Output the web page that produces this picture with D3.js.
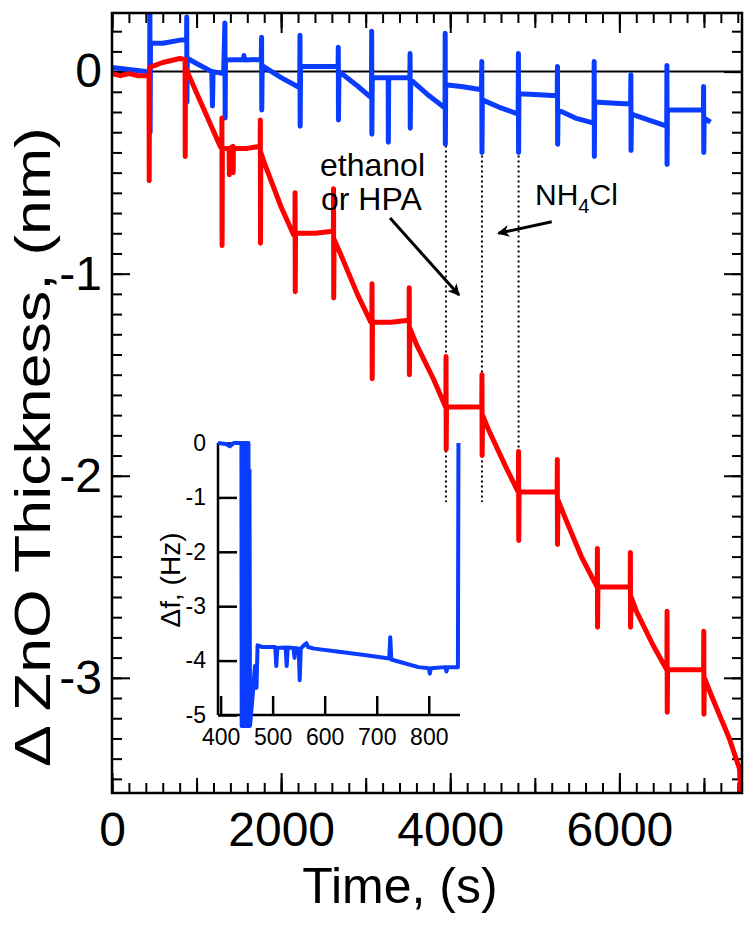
<!DOCTYPE html>
<html>
<head>
<meta charset="utf-8">
<script src="https://cdn.jsdelivr.net/npm/d3@7"></script>
<style>
  body { margin: 0; background: #fff; }
  svg { display: block; }
  text { font-family: "Liberation Sans", Arial, Helvetica, sans-serif; fill: #000; }
</style>
</head>
<body>
<svg id="chart" width="744" height="930"></svg>
<script>
// 主图：ZnO 厚度 (nm) 随时间 (s)
// [time, thickness]
const redTrace = [
  [0, -0.01], [100, -0.02], [200, -0.01], [300, -0.02], [438, -0.02],
  [440, -0.54], [443, 0.02], [500, 0.03], [600, 0.045], [700, 0.055], [800, 0.065], [864, 0.06],
  [866, -0.42], [869, 0.02], [900, -0.01], [1100, -0.2], [1280, -0.37],
  [1298, -0.38], [1300, -0.23], [1302, -0.86], [1305, -0.38], [1385, -0.38], [1388, -0.51], [1392, -0.38],
  [1430, -0.37], [1433, -0.5], [1436, -0.38], [1600, -0.38], [1740, -0.37],
  [1752, -0.38], [1754, -0.24], [1756, -0.85], [1760, -0.4], [1800, -0.45], [2000, -0.67], [2150, -0.81],
  [2163, -0.81], [2165, -0.6], [2167, -1.09], [2170, -0.8], [2400, -0.8], [2610, -0.79],
  [2618, -0.8], [2620, -0.58], [2622, -1.12], [2626, -0.83], [2700, -0.9], [2900, -1.1], [3060, -1.24],
  [3073, -1.24], [3075, -1.05], [3077, -1.52], [3080, -1.24], [3300, -1.24], [3505, -1.23],
  [3513, -1.24], [3515, -1.07], [3517, -1.5], [3522, -1.27], [3600, -1.35], [3800, -1.52], [3945, -1.66],
  [3948, -1.66], [3950, -1.41], [3952, -1.87], [3956, -1.66], [4200, -1.66], [4370, -1.66],
  [4373, -1.66], [4375, -1.5], [4377, -1.9], [4382, -1.7], [4450, -1.77], [4650, -1.95], [4803, -2.08],
  [4806, -2.08], [4808, -1.88], [4810, -2.32], [4814, -2.08], [5000, -2.08], [5262, -2.08],
  [5264, -2.08], [5266, -1.92], [5268, -2.34], [5274, -2.12], [5350, -2.2], [5550, -2.4], [5736, -2.55],
  [5738, -2.55], [5740, -2.36], [5742, -2.75], [5746, -2.55], [5950, -2.55], [6126, -2.55],
  [6128, -2.55], [6130, -2.38], [6132, -2.75], [6140, -2.6], [6200, -2.67], [6400, -2.84], [6560, -2.96],
  [6562, -2.96], [6564, -2.67], [6566, -3.17], [6570, -2.96], [6800, -2.96], [6994, -2.96],
  [6996, -2.96], [6998, -2.77], [7000, -3.18], [7006, -3.0], [7100, -3.1], [7300, -3.3], [7420, -3.45],
  [7440, -3.62]
]

// [time, thickness]
const blueTrace = [
  [0, 0.02], [200, 0.01], [400, 0.0], [446, -0.01],
  [448, 0.35], [451, -0.3], [455, 0.14], [600, 0.14], [825, 0.157],
  [882, 0.157], [884, 0.27], [886, -0.15], [890, 0.066], [1000, 0.04], [1180, 0.0],
  [1188, -0.17], [1195, 0.0], [1320, -0.01], [1335, 0.24], [1338, -0.23], [1342, 0.058],
  [1555, 0.06], [1560, 0.08], [1565, 0.058], [1765, 0.06],
  [1769, 0.17], [1771, -0.19], [1776, 0.03], [2000, -0.03], [2220, -0.08],
  [2223, 0.18], [2225, -0.27], [2230, 0.025], [2450, 0.025], [2674, 0.025],
  [2676, 0.12], [2678, -0.24], [2684, 0.0], [2900, -0.07], [3068, -0.13],
  [3071, 0.2], [3073, -0.31], [3078, -0.03], [3266, -0.03], [3268, -0.35], [3272, -0.03], [3522, -0.03],
  [3525, 0.09], [3527, -0.28], [3532, -0.04], [3750, -0.12], [3938, -0.18],
  [3940, 0.19], [3942, -0.36], [3946, -0.065], [4150, -0.075], [4370, -0.09],
  [4373, 0.05], [4375, -0.4], [4380, -0.14], [4600, -0.18], [4803, -0.21],
  [4806, 0.09], [4808, -0.4], [4812, -0.11], [5050, -0.115], [5265, -0.12],
  [5268, 0.025], [5270, -0.36], [5275, -0.19], [5480, -0.23], [5700, -0.255],
  [5702, 0.05], [5704, -0.42], [5708, -0.15], [5900, -0.155], [6133, -0.16],
  [6136, -0.016], [6138, -0.39], [6143, -0.21], [6350, -0.24], [6560, -0.27],
  [6562, 0.03], [6564, -0.46], [6568, -0.19], [6800, -0.19], [6994, -0.19],
  [6996, -0.074], [6998, -0.4], [7003, -0.23], [7077, -0.25]
]

// 插图：频率变化 Δf (Hz)
// [time, Δf]
const insetTrace = [
  [395, 0.0], [410, -0.02], [418, -0.06], [425, 0.0], [436, 0.0],
  [440, 0.0], [440.5, -5.2], [441.5, 0.0], [442.5, -5.2], [443.5, 0.0], [444.5, -5.2],
  [445.5, 0.0], [446.5, -5.2], [447.5, 0.0], [448.5, -5.2], [449.5, 0.0], [450.5, -5.2],
  [451.5, 0.0], [452.5, -5.2], [453.5, 0.0], [454.5, -5.2], [455.5, -0.5], [456.5, -5.2],
  [462, -4.6], [466, -4.1], [469, -4.5], [471, -3.72], [480, -3.75], [505, -3.75],
  [507, -4.1], [509, -3.77], [525, -3.76], [527, -4.1], [529, -3.76], [540, -3.77],
  [542, -3.95], [544, -3.77], [550, -3.78], [552, -4.36], [554, -3.78], [560, -3.72],
  [565, -3.68], [568, -3.75], [580, -3.78], [620, -3.83], [680, -3.9], [724, -3.96],
  [726, -3.57], [728, -3.98], [750, -4.04], [780, -4.12], [800, -4.14], [802, -4.24],
  [804, -4.14], [832, -4.12], [834, -4.2], [836, -4.12], [856, -4.12], [857, 0.0]
]

// 注入时刻（虚线）
const pulseTimes = [3949, 4375, 4808]

const xTicksMajor = [0, 2000, 4000, 6000]
const yTicksMajor = [-3, -2, -1, 0]
const insetXTicks = [400, 500, 600, 700, 800]
const insetYTicks = [0, -1, -2, -3, -4, -5]

const RED = '#ff0000'
const BLUE = '#0a3cff'

const svg = d3.select('#chart')
const pLeft = 112, pRight = 742, pTop = 13, pBottom = 793

const x = d3.scaleLinear().domain([0, 7450]).range([pLeft, pRight])
const y = d3.scaleLinear().domain([-3.57, 0.29]).range([pBottom, pTop])

// 插图比例尺
const xi = d3.scaleLinear().domain([395, 860]).range([218, 460])
const yi = d3.scaleLinear().domain([-5, 0]).range([715, 443])

svg.append('rect').attr('width', 744).attr('height', 930).attr('fill', '#fff')

const defs = svg.append('defs')
defs.append('clipPath').attr('id', 'plotClip')
  .append('rect').attr('x', pLeft).attr('y', pTop).attr('width', pRight - pLeft).attr('height', pBottom - pTop)

// 刻度
const tickAxis = (axis, tx, ty) => {
  const g = svg.append('g').attr('transform', `translate(${tx},${ty})`).call(axis)
  g.select('.domain').remove()
  g.selectAll('.tick line').attr('stroke', '#000').attr('stroke-width', 2)
  return g
}

const minorX = d3.range(0, 7450, 200)
const midX = d3.range(0, 7450, 1000)
const minorY = d3.range(-35, 3).map((i) => i / 10)

// 下轴 / 上轴
tickAxis(d3.axisBottom(x).tickValues(minorX).tickSize(-10).tickFormat(''), 0, pBottom)
tickAxis(d3.axisBottom(x).tickValues(midX).tickSize(-15).tickFormat(''), 0, pBottom)
const xAxisG = tickAxis(d3.axisBottom(x).tickValues(xTicksMajor).tickSize(-20).tickPadding(19).tickFormat((d) => String(d)), 0, pBottom)
xAxisG.selectAll('text').attr('font-size', 48).attr('font-family', '"Liberation Sans", Arial, sans-serif')
tickAxis(d3.axisTop(x).tickValues(minorX).tickSize(-10).tickFormat(''), 0, pTop)
tickAxis(d3.axisTop(x).tickValues(midX).tickSize(-15).tickFormat(''), 0, pTop)
tickAxis(d3.axisTop(x).tickValues(xTicksMajor).tickSize(-20).tickFormat(''), 0, pTop)

// 左轴 / 右轴
tickAxis(d3.axisLeft(y).tickValues(minorY).tickSize(-10).tickFormat(''), pLeft, 0)
const yAxisG = tickAxis(d3.axisLeft(y).tickValues(yTicksMajor).tickSize(-18).tickPadding(10).tickFormat((d) => String(d)), pLeft, 0)
yAxisG.selectAll('text').attr('font-size', 48).attr('font-family', '"Liberation Sans", Arial, sans-serif')
tickAxis(d3.axisRight(y).tickValues(minorY).tickSize(-10).tickFormat(''), pRight, 0)
tickAxis(d3.axisRight(y).tickValues(yTicksMajor).tickSize(-18).tickFormat(''), pRight, 0)

// 零线
svg.append('line')
  .attr('x1', pLeft).attr('x2', pRight).attr('y1', y(0)).attr('y2', y(0))
  .attr('stroke', '#000').attr('stroke-width', 2)

// 虚线
svg.append('g').selectAll('line').data(pulseTimes).join('line')
  .attr('x1', (d) => x(d)).attr('x2', (d) => x(d))
  .attr('y1', y(0.03)).attr('y2', y(-2.13))
  .attr('stroke', '#000').attr('stroke-width', 2).attr('stroke-dasharray', '2,3')

const line = d3.line().x((d) => x(d[0])).y((d) => y(d[1]))
const plot = svg.append('g').attr('clip-path', 'url(#plotClip)')

plot.append('path').datum(blueTrace).attr('d', line)
  .attr('fill', 'none').attr('stroke', BLUE).attr('stroke-width', 5).attr('stroke-linejoin', 'round')
plot.append('path').datum(redTrace).attr('d', line)
  .attr('fill', 'none').attr('stroke', RED).attr('stroke-width', 5).attr('stroke-linejoin', 'round')

// 边框
svg.append('rect')
  .attr('x', pLeft).attr('y', pTop).attr('width', pRight - pLeft).attr('height', pBottom - pTop)
  .attr('fill', 'none').attr('stroke', '#000').attr('stroke-width', 2.5)

// 轴标题
svg.append('text').attr('x', 400).attr('y', 903)
  .attr('text-anchor', 'middle').attr('font-size', 50).text('Time, (s)')
svg.append('text').attr('transform', 'translate(50,447) rotate(-90)')
  .attr('text-anchor', 'middle').attr('font-size', 50)
  .attr('textLength', 640).attr('lengthAdjust', 'spacingAndGlyphs')
  .text('\u0394 ZnO Thickness, (nm)')

// 注释
const ann = svg.append('g')
ann.append('text').attr('x', 320).attr('y', 176).attr('font-size', 32).text('ethanol')
ann.append('text').attr('x', 321).attr('y', 210).attr('font-size', 32).text('or HPA')
const nh = ann.append('text').attr('x', 535).attr('y', 205).attr('font-size', 30)
nh.append('tspan').text('NH')
nh.append('tspan').attr('font-size', 20).attr('dy', 8).text('4')
nh.append('tspan').attr('dy', -8).text('Cl')

defs.append('marker').attr('id', 'arrow')
  .attr('viewBox', '0 0 10 10').attr('refX', 9).attr('refY', 5)
  .attr('markerWidth', 6).attr('markerHeight', 4).attr('orient', 'auto')
  .append('path').attr('d', 'M0,0 L10,5 L0,10 L3,5 Z').attr('fill', '#000')

const arrows = [
  {from: [3288, -0.725], to: [4104, -1.106]},
  {from: [5200, -0.743], to: [4569, -0.8]},
]
ann.selectAll('line.arrow').data(arrows).join('line').attr('class', 'arrow')
  .attr('x1', (d) => x(d.from[0])).attr('y1', (d) => y(d.from[1]))
  .attr('x2', (d) => x(d.to[0])).attr('y2', (d) => y(d.to[1]))
  .attr('stroke', '#000').attr('stroke-width', 3).attr('marker-end', 'url(#arrow)')

// 插图
const inset = svg.append('g')
const insetX = inset.append('g').attr('transform', 'translate(0,715)')
  .call(d3.axisBottom(xi).tickValues(insetXTicks).tickSize(-19).tickPadding(14).tickSizeOuter(0))
insetX.select('.domain').attr('d', `M${xi.range()[0]},0H${xi.range()[1]}`)
const insetY = inset.append('g').attr('transform', 'translate(218,0)')
  .call(d3.axisLeft(yi).tickValues(insetYTicks).tickSize(-19).tickPadding(12).tickSizeOuter(0)
    .tickFormat((d) => String(d)))
insetY.select('.domain').attr('d', `M0,${yi.range()[1]}V${yi.range()[0]}`)
inset.selectAll('.domain, .tick line').attr('stroke', '#000').attr('stroke-width', 2.5)
inset.selectAll('.tick text').attr('font-size', 23).attr('font-family', '"Liberation Sans", Arial, sans-serif')

const lineI = d3.line().x((d) => xi(d[0])).y((d) => yi(d[1]))
inset.append('path').datum(insetTrace).attr('d', lineI)
  .attr('fill', 'none').attr('stroke', BLUE).attr('stroke-width', 4).attr('stroke-linejoin', 'round')

inset.append('text').attr('transform', 'translate(180,580) rotate(-90)')
  .attr('text-anchor', 'middle').attr('font-size', 28).text('\u0394f, (Hz)')
</script>
</body>
</html>
